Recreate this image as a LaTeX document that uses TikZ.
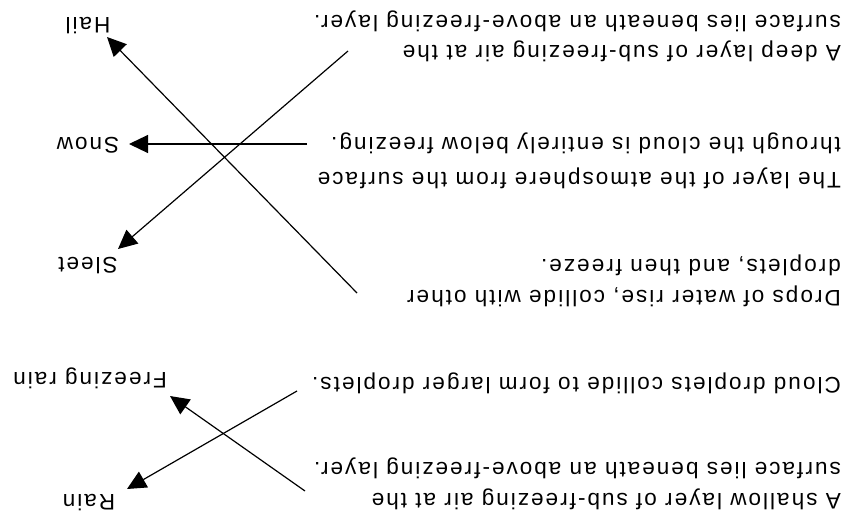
\documentclass[tikz,border=0pt]{standalone}
\usepackage{fontspec}
\setmainfont{Liberation Sans}[LetterSpace=9]
\usetikzlibrary{arrows.meta}
\begin{document}
\begin{tikzpicture}[x=1pt,y=-1pt,
  txt/.style={rotate=180,anchor=base west,inner sep=0pt,font=\fontsize{22.5}{27}\selectfont},
  lbl/.style={rotate=180,anchor=center,inner sep=0pt,font=\fontsize{22.5}{27}\selectfont},
  arr/.style={line width=1.2pt,-{Triangle[length=19pt,width=18pt]}}]
\useasboundingbox (0,0) rectangle (850,516);
\fill[white] (0,0) rectangle (850,516);
% text blocks (upside down)
\node[txt] (a1) at (841,46) {A deep layer of sub-freezing air at the};
\node[txt] (a2) at (841,16) {surface lies beneath an above-freezing layer.};
\node[txt] (b1) at (841,172) {The layer of the atmosphere from the surface};
\node[txt] (b2) at (841,137) {through the cloud is entirely below freezing.};
\node[txt] (c1) at (841,290) {Drops of water rise, collide with other};
\node[txt] (c2) at (841,259) {droplets, and then freeze.};
\node[txt] (d1) at (841,377) {Cloud droplets collide to form larger droplets.};
\node[txt] (e1) at (841,493) {A shallow layer of sub-freezing air at the};
\node[txt] (e2) at (841,462) {surface lies beneath an above-freezing layer.};
% labels
\node[lbl] (hail) at (88,26) {Hail};
\node[lbl] (snow) at (88,145) {Snow};
\node[lbl] (sleet) at (88,266) {Sleet};
\node[lbl] (frain) at (90,378) {Freezing rain};
\node[lbl] (rain) at (89,503) {Rain};
% arrow ends
\coordinate (hs) at (357,293); \coordinate (ht) at (107,37);
\coordinate (ss) at (348,51);  \coordinate (st) at (118,249);
\coordinate (ns) at (307,144); \coordinate (nt) at (129,144);
\coordinate (fs) at (305,491); \coordinate (ft) at (170,396);
\coordinate (rs) at (297,391); \coordinate (rt) at (127,489);
\draw[arr] (hs) -- (ht);
\draw[arr] (ss) -- (st);
\draw[arr] (ns) -- (nt);
\draw[arr] (fs) -- (ft);
\draw[arr] (rs) -- (rt);
\end{tikzpicture}
\end{document}
